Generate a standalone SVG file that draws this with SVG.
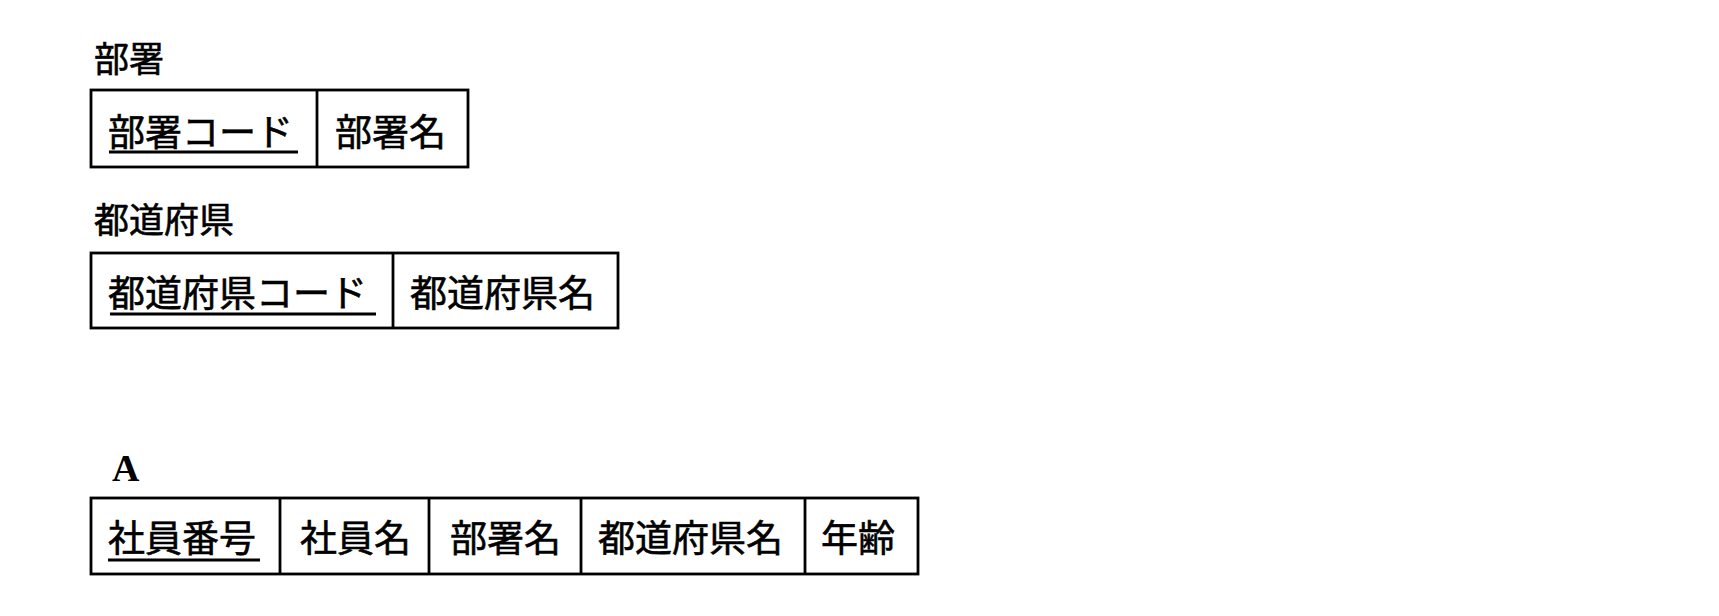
<svg xmlns="http://www.w3.org/2000/svg" width="1719" height="616" viewBox="0 0 1719 616">
<style>
.bg{fill:#ffffff}
.box{fill:none;stroke:#000;stroke-width:2.8}
.div{stroke:#000;stroke-width:2.8}
.ul{stroke:#000;stroke-width:2.8}
.t{font-family:"Noto Sans CJK JP","Noto Sans CJK SC",sans-serif;font-size:37px;fill:#000;stroke:#000;stroke-width:0.6}
.title{font-family:"Noto Sans CJK JP","Noto Sans CJK SC",sans-serif;font-size:35px;fill:#000;stroke:#000;stroke-width:0.6}
.serif{font-family:"Liberation Serif",serif;font-size:38px;font-weight:bold;fill:#000}
</style>
<rect class="bg" x="0" y="0" width="1719" height="616"/>
<g id="table-busho">
<text class="title" x="94" y="72">部署</text>
<rect class="box" x="91" y="90" width="377" height="77"/>
<line class="div" x1="317" y1="90" x2="317" y2="167"/>
<text class="t" x="108" y="146">部署コード</text>
<line class="ul" x1="109" y1="152" x2="298" y2="152"/>
<text class="t" x="335" y="146">部署名</text>
</g>
<g id="table-todofuken">
<text class="title" x="94" y="233">都道府県</text>
<rect class="box" x="91" y="253" width="527" height="75"/>
<line class="div" x1="393" y1="253" x2="393" y2="328"/>
<text class="t" x="108" y="307">都道府県コード</text>
<line class="ul" x1="110" y1="314" x2="376" y2="314"/>
<text class="t" x="410" y="307">都道府県名</text>
</g>
<g id="table-a">
<text class="serif" x="112" y="481">A</text>
<rect class="box" x="91" y="498" width="827" height="76"/>
<line class="div" x1="280" y1="498" x2="280" y2="574"/>
<line class="div" x1="429" y1="498" x2="429" y2="574"/>
<line class="div" x1="581" y1="498" x2="581" y2="574"/>
<line class="div" x1="805" y1="498" x2="805" y2="574"/>
<text class="t" x="108" y="552">社員番号</text>
<line class="ul" x1="108" y1="560" x2="260" y2="560"/>
<text class="t" x="300" y="552">社員名</text>
<text class="t" x="450" y="552">部署名</text>
<text class="t" x="598" y="552">都道府県名</text>
<text class="t" x="821" y="552">年齢</text>
</g>
<g id="connectors"></g>
</svg>
